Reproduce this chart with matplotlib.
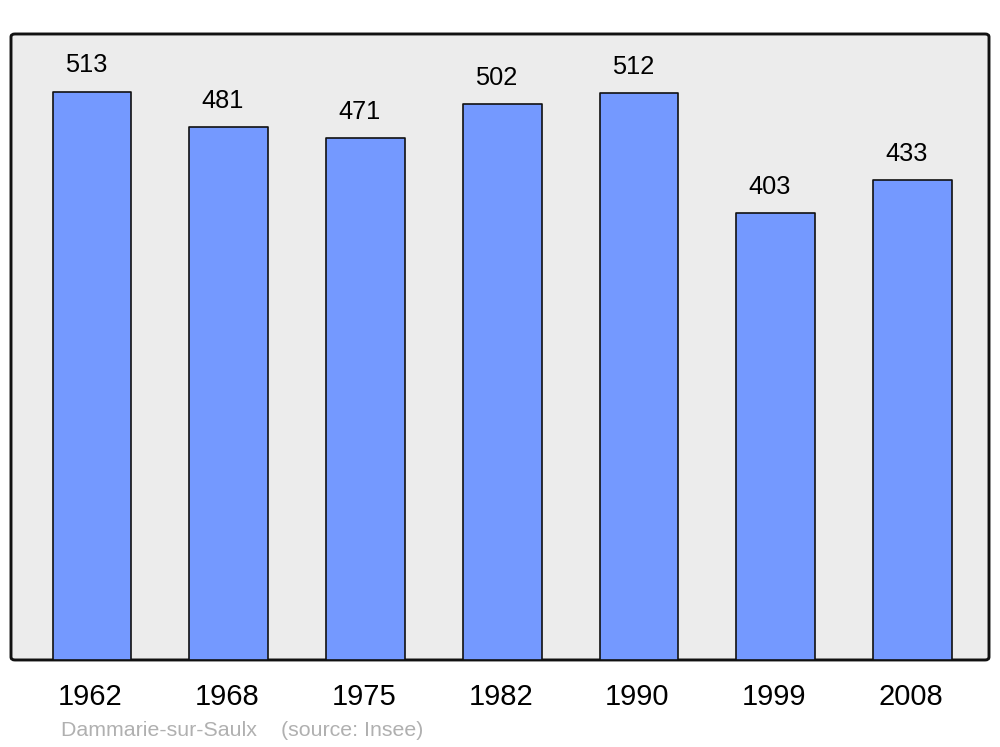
import matplotlib
matplotlib.use("Agg")
import matplotlib.pyplot as plt
from matplotlib.patches import FancyBboxPatch
from matplotlib.transforms import ScaledTranslation

years = ["1962", "1968", "1975", "1982", "1990", "1999", "2008"]
population = [513, 481, 471, 502, 512, 403, 433]
caption = "Dammarie-sur-Saulx    (source: Insee)"

plt.rcParams['font.family'] = ['Liberation Sans', 'DejaVu Sans']

fig = plt.figure(figsize=(10, 7.47), dpi=100)
ax = fig.add_axes([0.011, 0.1165, 0.978, 0.838])
ax.set_facecolor('none')
for s in ax.spines.values():
    s.set_visible(False)

frame = FancyBboxPatch((0, 0), 1, 1, boxstyle="round,pad=0,rounding_size=0.004",
                       transform=ax.transAxes, facecolor='#ececec', edgecolor='#111111',
                       linewidth=2.1, zorder=0, clip_on=False, mutation_aspect=1.17)
ax.add_patch(frame)

x = list(range(len(years)))
bars = ax.bar(x, population, width=0.575, color='#7499ff', edgecolor='#111111',
              linewidth=1.2, zorder=2)
for b in bars:
    b.set_joinstyle('round')

ax.set_xlim(-0.593, 6.56)
ax.set_ylim(0, 565)
ax.set_yticks([])
ax.set_xticks(x)
ax.set_xticklabels(years, fontsize=21)
ax.tick_params(axis='x', length=0, pad=16.5)
for lbl in ax.get_xticklabels():
    lbl.set_transform(lbl.get_transform() + ScaledTranslation(-1.5/100, 0, fig.dpi_scale_trans))

for xi, v in zip(x, population):
    ax.annotate(str(v), (xi, v), xytext=(-4.3, 18.8), textcoords='offset points',
                ha='center', va='center', fontsize=18.3, color='#000000')

fig.text(0.061, (747 - 731) / 747, caption, fontsize=15.4, color='#b0b0b0',
         ha='left', va='center')

fig.savefig("out.png", dpi=100)
